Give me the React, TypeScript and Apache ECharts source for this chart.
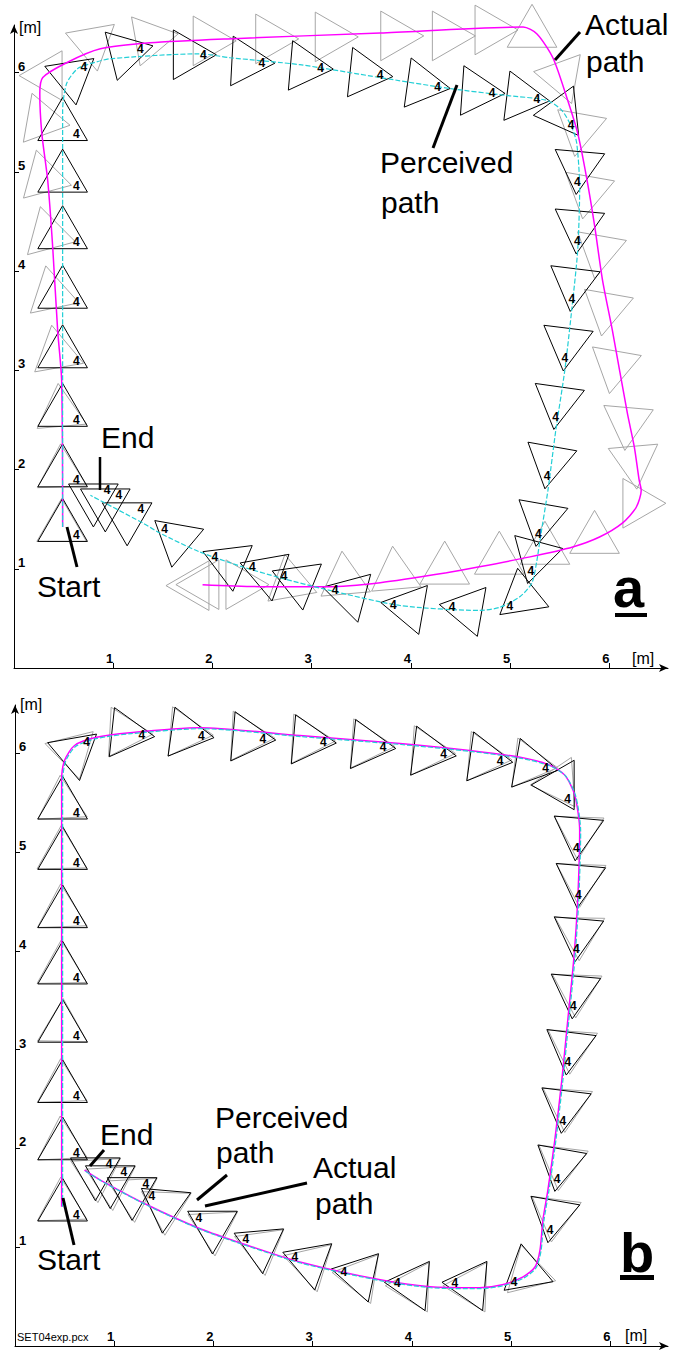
import React, { useEffect, useRef } from 'react';
import * as echarts from 'echarts';

// ---------- DATA (metres, heading/rotation in degrees) ----------
const tickValues = [1, 2, 3, 4, 5, 6];

// Panel a: perceived robot poses [x, y, rotation]
const perceivedPosesA = [
  [0.49, 1.42, -30], [0.49, 1.97, -30], [0.49, 2.58, -30], [0.49, 3.17, -30], [0.49, 3.77, -30],
  [0.49, 4.37, -30], [0.49, 4.94, -30], [0.49, 5.46, -30],
  [0.58, 5.96, 39], [1.12, 6.2, 14], [1.75, 6.18, 0], [2.34, 6.11, -3], [2.93, 6.06, -5],
  [3.53, 5.99, -6], [4.11, 5.88, -8], [4.66, 5.81, -4], [5.11, 5.75, -7],
  [5.52, 5.6, -54], [5.69, 5.06, -95], [5.69, 4.46, -95], [5.64, 3.88, -97], [5.57, 3.28, -97],
  [5.48, 2.69, -98], [5.4, 2.09, -100], [5.31, 1.51, -100],
  [5.25, 1.13, -105], [5.12, 0.72, -141], [4.57, 0.59, 170], [3.98, 0.61, 170], [3.39, 0.74, 165],
  [2.87, 0.87, 158], [2.55, 0.96, 160], [2.17, 1.06, 157], [1.64, 1.3, 140],
  [1.14, 1.52, 30], [0.92, 1.66, 30], [0.8, 1.71, 30],
];

// Panel a: actual robot poses [x, y, rotation]
const actualPosesA = [
  [0.48, 1.42, 90], [0.48, 1.97, 92], [0.47, 2.58, 95], [0.43, 3.17, 100], [0.38, 3.77, 102],
  [0.34, 4.37, 105], [0.3, 4.94, 105], [0.28, 5.52, 110],
  [0.34, 5.97, 180], [0.79, 6.3, -80], [1.37, 6.34, 10], [1.95, 6.32, 0], [2.58, 6.34, 0],
  [3.18, 6.36, 0], [3.84, 6.37, 0], [4.36, 6.37, 0], [4.79, 6.43, 0],
  [5.22, 6.4, 90], [5.52, 5.96, 170], [5.7, 5.44, -100], [5.78, 4.81, -100], [5.9, 4.21, -100],
  [5.97, 3.63, -100], [6.05, 3.05, -100], [6.18, 2.48, -95], [6.25, 2.09, -85], [6.28, 1.66, 0],
  [5.85, 1.3, 90], [5.35, 1.19, 90], [4.89, 1.09, 90], [4.34, 0.99, 90], [3.84, 0.94, 95],
  [3.33, 0.89, 95], [2.78, 0.86, 100], [2.28, 0.84, 0], [1.92, 0.84, 180], [1.82, 0.83, 180],
];

// Panel a: perceived path (cyan)
const perceivedPathA = [
  [0.49, 1.42], [0.49, 5.62], [0.53, 5.89], [0.64, 6.04], [0.77, 6.09], [0.97, 6.14], [1.87, 6.19],
  [2.18, 6.15], [2.88, 6.08], [3.69, 5.95], [4.39, 5.84], [4.96, 5.77], [5.37, 5.72], [5.52, 5.62],
  [5.62, 5.45], [5.67, 5.29], [5.7, 4.84], [5.68, 4.21], [5.62, 3.61], [5.55, 3.0], [5.46, 2.4],
  [5.38, 1.79], [5.3, 1.29], [5.27, 1.09], [5.22, 0.86], [5.1, 0.72], [4.89, 0.61], [4.69, 0.58],
  [3.89, 0.63], [3.15, 0.79], [2.68, 0.91], [2.3, 1.02], [1.87, 1.17], [1.47, 1.36], [1.3, 1.46],
  [0.77, 1.74],
];

// Panel a: actual path (magenta)
const actualPathA = [
  [0.49, 1.42], [0.48, 2.9], [0.44, 3.4], [0.39, 4.24], [0.34, 4.91], [0.28, 5.39], [0.26, 5.79],
  [0.29, 5.95], [0.53, 6.1], [0.87, 6.24], [1.37, 6.3], [2.15, 6.34], [3.69, 6.4], [5.13, 6.46],
  [5.27, 6.39], [5.43, 6.15], [5.57, 5.75], [5.68, 5.39], [5.77, 4.94], [5.85, 4.46], [5.93, 3.91],
  [6.03, 3.4], [6.18, 2.57], [6.25, 2.23], [6.3, 1.89], [6.32, 1.79], [6.27, 1.62], [6.13, 1.46],
  [5.9, 1.32], [5.63, 1.22], [5.2, 1.12], [4.69, 1.02], [4.36, 0.96], [3.69, 0.86], [3.15, 0.82],
  [2.48, 0.82], [1.9, 0.84],
];

// Panel b: perceived robot poses
const perceivedPosesB = [
  [0.48, 1.41, -30], [0.48, 2.03, -30], [0.48, 2.61, -30], [0.48, 3.22, -30], [0.48, 3.81, -30],
  [0.48, 4.38, -30], [0.48, 4.97, -30], [0.48, 5.48, -30],
  [0.6, 6.01, 40], [1.12, 6.2, -6], [1.72, 6.2, -8], [2.34, 6.16, -5], [2.95, 6.13, -5],
  [3.55, 6.08, -6], [4.16, 6.01, -7], [4.73, 5.95, -8], [5.19, 5.88, -10],
  [5.49, 5.68, -60], [5.67, 5.2, -95], [5.69, 4.72, -95], [5.67, 4.18, -95], [5.64, 3.6, -95],
  [5.59, 3.03, -97], [5.54, 2.44, -97], [5.49, 1.85, -100], [5.42, 1.33, -100],
  [5.15, 0.75, -140], [4.59, 0.62, 175], [4.01, 0.62, 175], [3.47, 0.72, 168], [2.97, 0.85, 160],
  [2.47, 1.02, 155], [1.99, 1.22, 150], [1.51, 1.43, 145],
  [1.18, 1.56, 30], [0.96, 1.68, 30], [0.81, 1.76, 30],
];

// Panel b: actual robot poses
const actualPosesB = [
  [0.47, 1.42, -28], [0.47, 2.04, -27], [0.47, 2.62, -28], [0.48, 3.23, -31], [0.47, 3.82, -29],
  [0.47, 4.39, -28], [0.47, 4.98, -29], [0.47, 5.49, -27],
  [0.58, 6.02, 44], [1.1, 6.21, -3], [1.71, 6.21, -5], [2.33, 6.17, -3], [2.94, 6.14, -3],
  [3.54, 6.09, -4], [4.15, 6.02, -4], [4.72, 5.96, -5], [5.18, 5.89, -7],
  [5.48, 5.7, -56], [5.68, 5.21, -92], [5.7, 4.73, -92], [5.69, 4.19, -91], [5.66, 3.61, -92],
  [5.61, 3.04, -94], [5.56, 2.45, -94], [5.51, 1.86, -97], [5.44, 1.34, -97],
  [5.17, 0.74, -136], [4.6, 0.6, 178], [4.02, 0.6, 178], [3.48, 0.7, 171], [2.98, 0.83, 163],
  [2.48, 1.0, 158], [2.0, 1.2, 153], [1.52, 1.41, 148],
  [1.19, 1.54, 33], [0.97, 1.66, 33], [0.82, 1.74, 33],
];

// Panel b: actual path (magenta)
const actualPathB = [
  [0.47, 1.41], [0.47, 5.73], [0.5, 5.93], [0.6, 6.08], [0.81, 6.16], [1.16, 6.21], [1.86, 6.26],
  [2.87, 6.18], [3.88, 6.1], [4.58, 6.03], [5.09, 5.96], [5.39, 5.88], [5.54, 5.78], [5.64, 5.58],
  [5.69, 5.22], [5.67, 4.51], [5.63, 3.91], [5.57, 3.3], [5.51, 2.69], [5.44, 2.09], [5.37, 1.58],
  [5.32, 1.28], [5.29, 0.97], [5.24, 0.8], [5.12, 0.7], [4.91, 0.62], [4.68, 0.59], [4.18, 0.6],
  [3.68, 0.67], [2.87, 0.85], [2.34, 1.02], [1.86, 1.19], [1.33, 1.43], [0.86, 1.68], [0.7, 1.78],
];

// Panel b: perceived path (cyan)
const perceivedPathB = [
  [0.48, 1.41], [0.48, 5.72], [0.51, 5.92], [0.61, 6.07], [0.82, 6.15], [1.17, 6.2], [1.87, 6.25],
  [2.88, 6.17], [3.89, 6.09], [4.59, 6.02], [5.1, 5.95], [5.4, 5.87], [5.55, 5.77], [5.65, 5.57],
  [5.7, 5.21], [5.68, 4.5], [5.64, 3.9], [5.58, 3.29], [5.52, 2.68], [5.45, 2.08], [5.38, 1.57],
  [5.33, 1.27], [5.3, 0.96], [5.25, 0.79], [5.13, 0.69], [4.92, 0.61], [4.69, 0.58], [4.19, 0.59],
  [3.69, 0.66], [2.88, 0.84], [2.35, 1.01], [1.87, 1.18], [1.34, 1.42], [0.87, 1.67], [0.71, 1.77],
];

// ---------- RENDERING ----------
const SIDE = 0.5; // robot triangle side length (m)
const RAD = SIDE / Math.sqrt(3);
const FONT = '"Liberation Sans", Arial, sans-serif';

function triangleRenderer(color: string, width: number) {
  return (params: any, api: any) => {
    const cx = api.value(0);
    const cy = api.value(1);
    const rot = api.value(2);
    const pts = [0, 120, 240].map((d) => {
      const a = ((rot + d) * Math.PI) / 180;
      return api.coord([cx + RAD * Math.cos(a), cy + RAD * Math.sin(a)]);
    });
    return {
      type: 'polygon',
      shape: { points: pts },
      style: { fill: 'none', stroke: color, lineWidth: width },
    };
  };
}

function labelRenderer(params: any, api: any) {
  const cx = api.value(0);
  const cy = api.value(1);
  const a = (api.value(2) * Math.PI) / 180;
  const p = api.coord([cx + 0.55 * RAD * Math.cos(a), cy + 0.55 * RAD * Math.sin(a)]);
  return {
    type: 'text',
    x: p[0],
    y: p[1],
    style: {
      text: '4',
      fill: '#000',
      font: `bold 12px ${FONT}`,
      align: 'center',
      verticalAlign: 'middle',
    },
  };
}

function axisPair(idx: number, xMax: number, yMax: number) {
  const common = {
    gridIndex: idx,
    type: 'value',
    min: 0,
    splitLine: { show: false },
    axisLine: {
      show: true,
      onZero: false,
      symbol: ['none', 'arrow'],
      symbolSize: [6, 9],
      lineStyle: { color: '#000', width: 1 },
    },
    axisTick: { show: true, inside: true, length: 5, customValues: tickValues, lineStyle: { color: '#000' } },
  };
  const x = {
    ...common,
    max: xMax,
    axisLabel: {
      show: true,
      inside: true,
      customValues: tickValues,
      formatter: (v: number) => String(v),
      margin: 3,
      align: 'right',
      color: '#000',
      fontWeight: 'bold',
      fontSize: 13,
      fontFamily: FONT,
    },
  };
  const y = {
    ...common,
    max: yMax,
    axisLabel: {
      show: true,
      inside: true,
      customValues: tickValues,
      formatter: (v: number) => String(v),
      margin: 4,
      align: 'left',
      verticalAlign: 'bottom',
      color: '#000',
      fontWeight: 'bold',
      fontSize: 13,
      fontFamily: FONT,
    },
  };
  return { x, y };
}

function panelSeries(idx: number, perceived: number[][], actual: number[][], pPath: number[][], aPath: number[][]) {
  const base = { xAxisIndex: idx, yAxisIndex: idx, coordinateSystem: 'cartesian2d', clip: false, silent: true };
  return [
    { ...base, type: 'custom', z: 1, renderItem: triangleRenderer('#a6a6a6', 1), data: actual, encode: { x: 0, y: 1 } },
    { ...base, type: 'custom', z: 2, renderItem: triangleRenderer('#000', 1), data: perceived, encode: { x: 0, y: 1 } },
    {
      ...base, type: 'line', z: 3, data: aPath, symbol: 'none', smooth: 0.25,
      lineStyle: { color: '#ff00ff', width: 1.5 },
    },
    {
      ...base, type: 'line', z: 4, data: pPath, symbol: 'none', smooth: 0.25,
      lineStyle: { color: '#22cfd6', width: 1.2, type: [5, 2] },
    },
    { ...base, type: 'custom', z: 5, renderItem: labelRenderer, data: perceived, encode: { x: 0, y: 1 } },
  ];
}

function txt(x: number, y: number, text: string, size: number, extra: any = {}) {
  return {
    type: 'text',
    x,
    y,
    z: 100,
    style: { text, fill: '#000', font: `${extra.weight || 'normal'} ${size}px ${FONT}`, align: 'left', verticalAlign: 'middle' },
  };
}
function seg(x1: number, y1: number, x2: number, y2: number, w = 3) {
  return { type: 'line', z: 100, shape: { x1, y1, x2, y2 }, style: { stroke: '#000', lineWidth: w } };
}

export default function App() {
  const ref = useRef<HTMLDivElement>(null);
  useEffect(() => {
    const chart = echarts.init(ref.current!, null, { renderer: 'svg' });
    const a = axisPair(0, 6.59, 6.48);
    const b = axisPair(1, 6.58, 6.49);
    const option: any = {
      animation: false,
      backgroundColor: '#fff',
      grid: [
        { left: 14, top: 25, width: 654, height: 643 },
        { left: 15, top: 705, width: 653, height: 641 },
      ],
      xAxis: [a.x, b.x],
      yAxis: [a.y, b.y],
      series: [
        ...panelSeries(0, perceivedPosesA, actualPosesA, perceivedPathA, actualPathA),
        ...panelSeries(1, perceivedPosesB, actualPosesB, perceivedPathB, actualPathB),
      ],
      graphic: [
        // axis units
        txt(19, 27, '[m]', 16),
        txt(632, 658, '[m]', 16),
        txt(20, 704, '[m]', 16),
        txt(625, 1335, '[m]', 16),
        // panel a annotations
        txt(585, 24, 'Actual', 30),
        txt(586, 61, 'path', 30),
        seg(580, 32, 555, 60),
        txt(380, 162, 'Perceived', 30),
        txt(381, 202, 'path', 30),
        seg(457, 85, 433, 148),
        txt(101, 437, 'End', 30),
        seg(100, 457, 100, 490, 2.5),
        txt(37, 586, 'Start', 30),
        seg(67, 527, 77, 567),
        txt(613, 587, 'a', 56, { weight: 'bold' }),
        { type: 'rect', z: 100, shape: { x: 615, y: 613, width: 32, height: 4 }, style: { fill: '#000' } },
        // panel b annotations
        txt(100, 1134, 'End', 30),
        seg(104, 1150, 90, 1166),
        txt(37, 1259, 'Start', 30),
        seg(63, 1198, 74, 1245),
        txt(215, 1117, 'Perceived', 30),
        txt(216, 1152, 'path', 30),
        seg(227, 1175, 197, 1200),
        txt(313, 1167, 'Actual', 30),
        txt(315, 1203, 'path', 30),
        seg(307, 1183, 205, 1206),
        txt(620, 1252, 'b', 56, { weight: 'bold' }),
        { type: 'rect', z: 100, shape: { x: 620, y: 1275, width: 34, height: 5 }, style: { fill: '#000' } },
        txt(17, 1337, 'SET04exp.pcx', 11),
      ],
    };
    chart.setOption(option);
    return () => chart.dispose();
  }, []);
  return (
    <div
      ref={ref}
      style={{ position: 'absolute', left: 0, top: 0, width: 675, height: 1353, background: '#fff' }}
    />
  );
}
